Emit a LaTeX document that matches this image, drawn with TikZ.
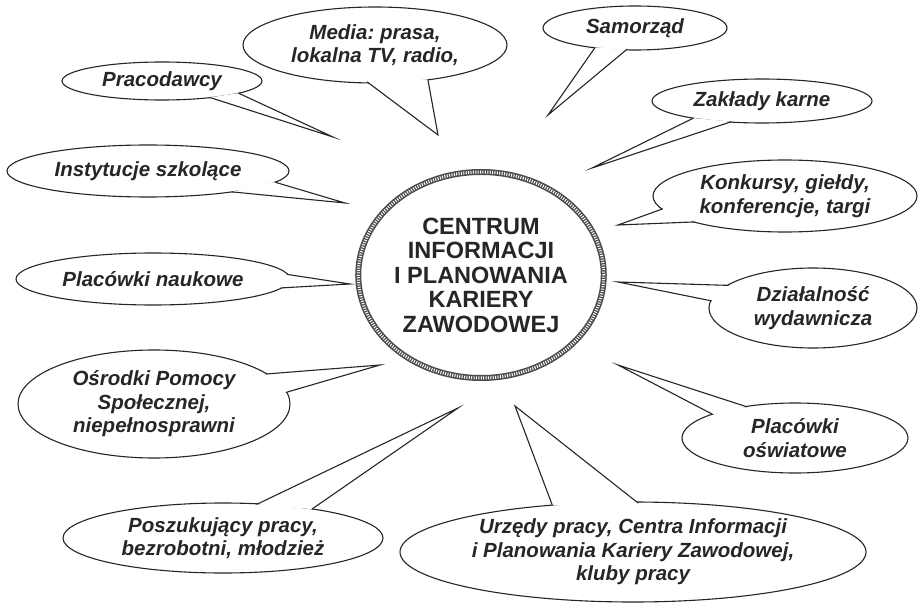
\documentclass[tikz,border=0pt]{standalone}
\usepackage{fontspec}
\setmainfont{Liberation Sans}
\usetikzlibrary{shapes.geometric,calc}
\frenchspacing
\newcommand{\bubblefont}{\fontsize{20.5}{23.5}\selectfont\bfseries\itshape\frenchspacing}
\newcommand{\centrefont}{\fontsize{23.5}{24.5}\selectfont\bfseries}
\tikzset{
  bubble/.style={ellipse, draw=black!85, line width=1.1pt, fill=white, inner sep=0pt, align=center, font=\bubblefont, text=black!85},
  tail/.style={fill=white, draw=black!85, line width=1.1pt, line join=miter, miter limit=20},
  centre/.style={ellipse, draw=black!70, line width=6pt, inner sep=0pt, align=center, font=\centrefont, text=black!85,
    postaction={draw=white, line width=3pt, dash pattern=on 1pt off 1.4pt}},
}
% tail: node, angle1, angle2, tip
\newcommand{\mytail}[4]{%
  \filldraw[tail] ($(#1.#2)!1.6pt!(#1.center)$) -- (#4) -- ($(#1.#3)!1.6pt!(#1.center)$);}
\begin{document}
\begin{tikzpicture}[x=1pt,y=-1pt]
\useasboundingbox[fill=white] (0,0) rectangle (918,604);

% centre
\node[centre, minimum width=236pt, minimum height=206pt] (c) at (481,275)
  {CENTRUM\\INFORMACJI\\I PLANOWANIA\\KARIERY\\ZAWODOWEJ};

% tips
\coordinate (t1) at (333,137);
\coordinate (t2) at (438,135);
\coordinate (t3) at (548,115);
\coordinate (t4) at (592,168);
\coordinate (t5) at (618,225);
\coordinate (t6) at (618,282);
\coordinate (t7) at (618,365);
\coordinate (t8) at (515,406);
\coordinate (t9) at (458,408);
\coordinate (t10) at (380,365);
\coordinate (t11) at (350,284);
\coordinate (t12) at (345,203);

\node[bubble, minimum width=200pt, minimum height=38pt] (b1) at (162,81) {Pracodawcy};
\mytail{b1}{-9.6}{-19.4}{t1}

\node[bubble, minimum width=264pt, minimum height=76pt] (b2) at (375,45) {Media: prasa,\\lokalna TV, radio,};
\mytail{b2}{-102}{-33}{t2}

\node[bubble, minimum width=184pt, minimum height=44pt] (b3) at (635,28) {Samorząd};
\mytail{b3}{-154.5}{-110}{t3}

\node[bubble, minimum width=220pt, minimum height=44pt] (b4) at (762,101) {Zakłady karne};
\mytail{b4}{-166.7}{-146.7}{t4}

\node[bubble, minimum width=264pt, minimum height=72pt] (b5) at (785,196) {Konkursy, giełdy,\\konferencje, targi};
\mytail{b5}{-174}{-164.2}{t5}

\node[bubble, minimum width=208pt, minimum height=80pt] (b6) at (813,308) {Działalność\\wydawnicza};
\mytail{b6}{165.8}{176.4}{t6}

\node[bubble, minimum width=226pt, minimum height=70pt] (b7) at (795,438) {Placówki\\oświatowe};
\mytail{b7}{164.9}{147.4}{t7}

\node[bubble, minimum width=466pt, minimum height=100pt] (b8) at (633,552) {Urzędy pracy, Centra Informacji\\i Planowania Kariery Zawodowej,\\kluby pracy};
\mytail{b8}{150.5}{84.3}{t8}

\node[bubble, minimum width=320pt, minimum height=70pt] (b9) at (223,538) {Poszukujący pracy,\\bezrobotni, młodzież};
\mytail{b9}{45.8}{18}{t9}

\node[bubble, minimum width=272pt, minimum height=108pt] (b10) at (154,404) {Ośrodki Pomocy\\Społecznej,\\niepełnosprawni};
\mytail{b10}{15.3}{5.1}{t10}

\node[bubble, minimum width=274pt, minimum height=52pt] (b11) at (153,279) {Placówki naukowe};
\mytail{b11}{2}{-4}{t11}

\node[bubble, minimum width=282pt, minimum height=52pt] (b12) at (148,171) {Instytucje szkolące};
\mytail{b12}{-5.5}{-14}{t12}
\end{tikzpicture}
\end{document}
